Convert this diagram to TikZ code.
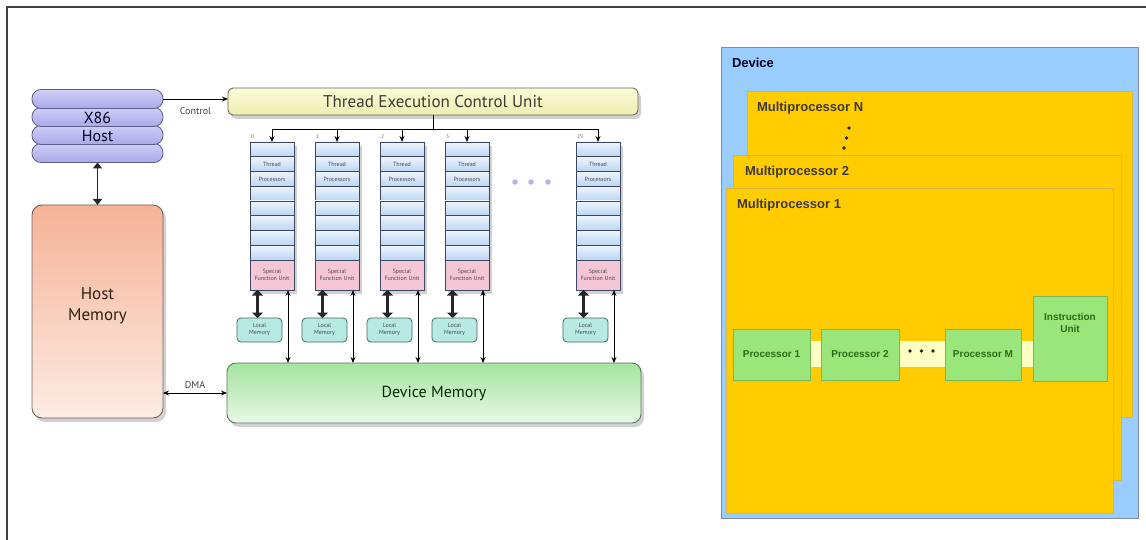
\documentclass[tikz,border=0pt]{standalone}
\usepackage{fontspec}
\setmainfont{PT Sans}
\newfontfamily\arialf{Liberation Sans}
\usetikzlibrary{arrows.meta,shadows,calc}
\definecolor{pilltop}{HTML}{CFCFF8}
\definecolor{pillbot}{HTML}{A9A9E6}
\definecolor{pillborder}{HTML}{5E5E8A}
\definecolor{hmtop}{HTML}{F5B397}
\definecolor{hmbot}{HTML}{FDEBE4}
\definecolor{hmborder}{HTML}{6E625C}
\definecolor{tecutop}{HTML}{FBFBDA}
\definecolor{tecubot}{HTML}{EEEEB0}
\definecolor{tecuborder}{HTML}{6A6A50}
\definecolor{rowtop}{HTML}{EEF5FD}
\definecolor{rowbot}{HTML}{B9D6F3}
\definecolor{colborder}{HTML}{3B4660}
\definecolor{sfupink}{HTML}{F5C6D6}
\definecolor{lmfill}{HTML}{B6EAE2}
\definecolor{lmborder}{HTML}{3E6B62}
\definecolor{dmtop}{HTML}{A4E4A0}
\definecolor{dmbot}{HTML}{E8F8E6}
\definecolor{dmborder}{HTML}{5C7A5C}
\definecolor{devblue}{HTML}{99CCFF}
\definecolor{devborder}{HTML}{7F8FA0}
\definecolor{mpyellow}{HTML}{FFCC00}
\definecolor{mpborder}{HTML}{D9B547}
\definecolor{procgreen}{HTML}{9BE67B}
\definecolor{procborder}{HTML}{78B85A}
\definecolor{proctext}{HTML}{2E6A16}
\definecolor{bandfill}{HTML}{FFFFC4}
\definecolor{dotpurple}{HTML}{B4B4E4}
\definecolor{smalltxt}{HTML}{4A4A4A}
\begin{document}
\begin{tikzpicture}[x=1pt,y=-1pt,
  every node/.style={inner sep=0pt,outer sep=0pt},
  shad/.style={drop shadow={shadow xshift=3pt,shadow yshift=-4pt,opacity=0.18,fill=black}},
  pill/.style={draw=pillborder,line width=0.8pt,rounded corners=9pt,top color=pilltop,bottom color=pillbot,minimum width=131pt,minimum height=19pt},
  hostmem/.style={draw=hmborder,line width=0.9pt,rounded corners=10pt,top color=hmtop,bottom color=hmbot,minimum width=131pt,minimum height=213pt,shad},
  tecubox/.style={draw=tecuborder,line width=0.9pt,rounded corners=5pt,top color=tecutop,bottom color=tecubot,minimum width=410pt,minimum height=27pt,shad},
  devmem/.style={draw=dmborder,line width=0.9pt,rounded corners=9pt,top color=dmtop,bottom color=dmbot,minimum width=414pt,minimum height=60pt,shad},
  colbox/.style={draw=colborder,line width=0.9pt,minimum width=44pt,minimum height=148pt,shad,fill=white},
  rowbox/.style={draw=colborder,line width=0.8pt,top color=rowtop,bottom color=rowbot},
  sfubox/.style={draw=colborder,line width=0.8pt,fill=sfupink,minimum width=44pt,minimum height=30pt,font=\fontsize{6}{7}\selectfont,text=smalltxt,align=center},
  lmbox/.style={draw=lmborder,line width=0.8pt,rounded corners=4pt,fill=lmfill,minimum width=45pt,minimum height=24pt,font=\fontsize{6}{7}\selectfont,text=smalltxt,align=center},
  tiny/.style={font=\fontsize{6}{7}\selectfont,text=smalltxt},
  numlab/.style={font=\fontsize{5.5}{6}\selectfont,text=black!55},
  thinarr/.style={line width=0.9pt,{Stealth[length=6pt,width=5pt]}-{Stealth[length=6pt,width=5pt]}},
  onearr/.style={line width=0.9pt,-{Stealth[length=6pt,width=5pt]}},
  thickarr/.style={line width=3.2pt,{Triangle[length=5.5pt,width=11pt]}-{Triangle[length=5.5pt,width=11pt]},black!85},
  midarr/.style={line width=1.8pt,{Triangle[length=6pt,width=9pt]}-{Triangle[length=6pt,width=9pt]},black!85},
  smalltext/.style={font=\fontsize{10}{12}\selectfont,text=black!75},
  devbox/.style={draw=devborder,line width=0.8pt,fill=devblue},
  mpbox/.style={draw=mpborder,line width=0.6pt,fill=mpyellow},
  mptext/.style={font=\arialf\bfseries\fontsize{13}{15}\selectfont,text=black!80!yellow!60!black,anchor=west},
  procbox/.style={draw=procborder,line width=0.8pt,fill=procgreen,font=\arialf\bfseries\fontsize{10}{12}\selectfont,text=proctext,align=center}
]
\useasboundingbox (0,0) rectangle (1146,540);
\fill[white] (0,0) rectangle (1146,540);
\draw[line width=1.6pt,black!75] (1146,7) -- (7,7) -- (7,540);

% ---------- left: host ----------
\node[hostmem] (hmem) at (97.5,311.5) {};
\node[font=\fontsize{17}{21}\selectfont,text=black!75!brown,align=center] (hmemt) at (97.5,306) {Host\\Memory};
\node[pill] (hp4) at (97.5,153) {};
\node[pill] (hp3) at (97.5,135) {};
\node[pill] (hp2) at (97.5,117) {};
\node[pill] (hp1) at (97.5,99) {};
\node[font=\fontsize{16}{16}\selectfont,text=black!75!blue!60!black] (x86) at (97.5,118) {X86};
\node[font=\fontsize{16}{16}\selectfont,text=black!75!blue!60!black] (hostt) at (97.5,135.5) {Host};
\draw[midarr] (hp4.south) -- (hmem.north);

\node[tecubox] (tecu) at (433,101.5) {};
\node[font=\fontsize{17}{17}\selectfont,text=black!75!yellow!50!black] (tecut) at (433,102) {Thread Execution Control Unit};
\draw[onearr] (hp1.east) -- (hp1.east -| tecu.west) node[midway,below=8pt,smalltext] (ctrl) {Control};

\node[devmem] (dmem) at (434,393) {};
\node[font=\fontsize{16}{16}\selectfont,text=black!65!green!50!black] (dmemt) at (434,393) {Device Memory};
\draw[thinarr] (hmem.east |- dmem.west) -- (dmem.west) node[midway,above=4pt,smalltext] (dma) {DMA};

\coordinate (br) at (433,129);
\draw[line width=0.9pt] (tecu.south) -- (br);

\foreach \i/\x/\lab in {0/250/0,1/315/1,2/380/2,3/445/3,4/576/29} {
  \node[colbox] (col\i) at (\x+22,216) {};
  \foreach \r in {0,...,7} {
    \draw[rowbox] (\x,142+\r*14.75) rectangle ++(44,14.75);
  }
  \node[tiny] (th\i) at (\x+22,164.5) {Thread};
  \node[tiny] (pr\i) at (\x+22,179.5) {Processors};
  \node[sfubox] (sfu\i) at (\x+22,275) {Special\\Function Unit};
  \node[numlab,anchor=south west] (num\i) at (\x+1,139) {\lab};
  \node[lmbox] (lm\i) at (\x+9.5,330) {Local\\Memory};
  \coordinate (ta\i) at ($(sfu\i.south west)+(7.5,0)$);
  \coordinate (tb\i) at ($(sfu\i.south east)+(-6,0)$);
  \draw[thickarr] (ta\i) -- (ta\i |- lm\i.north);
  \draw[thinarr] (tb\i) -- (tb\i |- dmem.north);
  \draw[onearr] (col\i.north |- br) -- (col\i.north);
}
\draw[line width=0.9pt] (col0.north |- br) -- (col4.north |- br);
\foreach \k/\dx in {1/515,2/531,3/548} {
  \node[circle,fill=dotpurple,minimum size=5.5pt] (pd\k) at (\dx,182) {};
}

% ---------- right: device ----------
\draw[devbox] (721,47) rectangle (1138,518);
\node[font=\arialf\bfseries\fontsize{13}{15}\selectfont,text=black!85!blue,anchor=west] (devt) at (732,63) {Device};
\draw[mpbox] (747,91) rectangle (1132,417);
\node[mptext] (mpn) at (757,108) {Multiprocessor N};
\foreach \k/\dx/\dy in {1/849/128,2/846.5/138,3/844/148} {
  \node[circle,fill=black!85,minimum size=3.8pt] (vd\k) at (\dx,\dy) {};
}
\draw[mpbox] (733,155) rectangle (1121,480);
\node[mptext] (mp2) at (745,172) {Multiprocessor 2};
\draw[mpbox] (726,188) rectangle (1113,513);
\node[mptext] (mp1) at (737,205) {Multiprocessor 1};

\fill[bandfill] (805,341) rectangle (1035,367);
\node[procbox,minimum width=77pt,minimum height=51pt] (p1) at (771.5,354.5) {Processor 1};
\node[procbox,minimum width=78pt,minimum height=51pt] (p2) at (860,354.5) {Processor 2};
\node[procbox,minimum width=76pt,minimum height=51pt] (pm) at (983,354.5) {Processor M};
\node[procbox,minimum width=74pt,minimum height=85pt,
  label={[font=\arialf\bfseries\fontsize{10}{12}\selectfont,text=proctext,align=center,anchor=north,yshift=-17pt]north:Instruction\\Unit}] (iu) at (1070,338.5) {};
\foreach \k/\dx in {1/910,2/921.5,3/933} {
  \node[circle,fill=black!85,minimum size=3.8pt] (hd\k) at (\dx,351) {};
}
\end{tikzpicture}
\end{document}
